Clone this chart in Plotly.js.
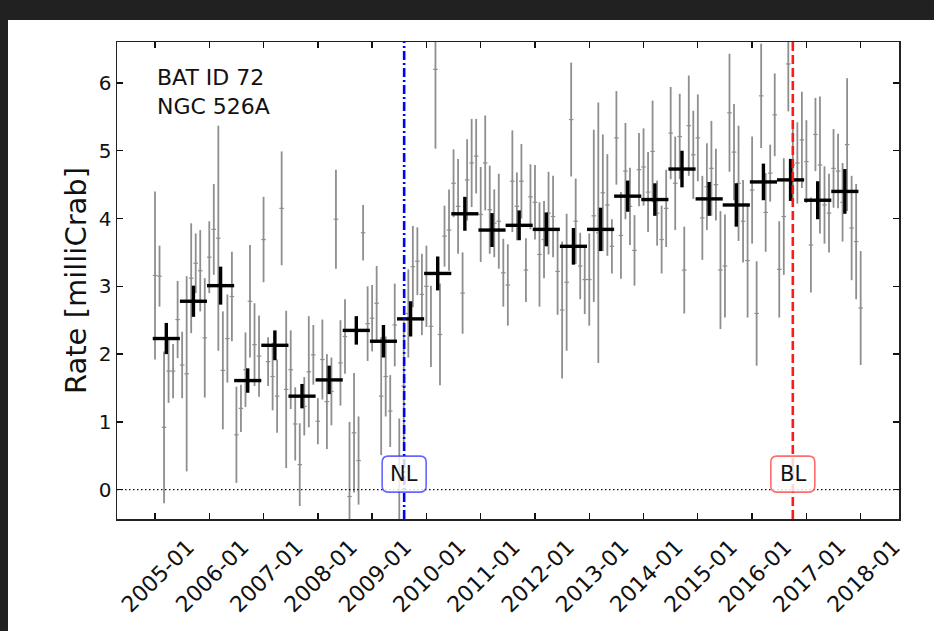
<!DOCTYPE html>
<html><head><meta charset="utf-8">
<script src="https://cdn.plot.ly/plotly-3.0.1.min.js"></script>
<style>
html,body{margin:0;padding:0;background:#212121;width:934px;height:631px;overflow:hidden}
#chart{position:absolute;left:8px;top:20px;width:926px;height:611px;background:#fff}
</style></head><body><div id="chart"></div>
<script>
// Monthly BAT light curve, first month = 2005-01
const firstYear = 2005;
const monthlyRate = [
  3.16, 3.15, 0.92, 1.75, 1.75, 2.51, 1.84, 1.71, 3.12, 3.34, 3.23, 2.24,   // 2005
  3.43, 3.84, 3.71, 1.76, 2.23, 2.85, 0.81, 1.20, 1.77, 2.78, 2.14, 1.97,   // 2006
  3.69, 1.89, 1.67, 1.38, 4.15, 1.48, 1.77, 0.97, 0.37, 1.23, 1.74, 1.99,   // 2007
  1.01, 1.92, 1.30, 1.45, 3.99, 1.87, 2.26, -0.10, 0.84, 0.43, 3.79, 2.45,  // 2008
  2.53, 2.75, 1.38, 1.67, 1.16, 2.43, 0.25, 1.53, 2.60, 3.29, 3.37, 2.88,   // 2009
  3.00, 2.41, 6.20, 2.29, 3.74, 3.83, 4.52, 4.18, 2.90, 4.57, 4.82, 4.92,   // 2010
  4.06, 4.82, 4.13, 3.93, 3.96, 3.20, 3.02, 4.55, 4.18, 4.55, 3.24, 4.32,   // 2011
  4.24, 3.47, 3.69, 4.08, 4.03, 3.22, 2.65, 3.06, 5.46, 3.96, 3.30, 3.10,   // 2012
  3.10, 4.04, 3.79, 4.38, 4.20, 3.59, 5.19, 3.75, 4.70, 4.18, 3.53, 4.72,   // 2013
  4.76, 4.39, 4.99, 4.08, 3.69, 4.15, 5.26, 4.52, 5.21, 3.24, 5.37, 4.94,   // 2014
  5.19, 4.01, 4.47, 4.74, 4.50, 3.24, 3.30, 5.56, 4.98, 4.52, 3.96, 3.38,   // 2015
  4.42, 2.60, 5.81, 4.09, 4.67, 5.53, 3.25, 4.03, 6.28, 4.79, 4.82, 5.16,   // 2016
  4.84, 3.61, 5.24, 4.79, 4.20, 4.08, 4.74, 4.70, 4.24, 5.09, 3.86, 3.66,   // 2017
  2.68                                                                      // 2018
];
const monthlyErr = [
  1.24, 0.45, 1.12, 0.47, 0.40, 0.57, 0.49, 1.44, 0.81, 0.44, 0.60, 0.88,
  0.53, 0.67, 1.66, 0.87, 0.65, 0.66, 0.71, 0.35, 0.55, 0.83, 0.61, 0.60,
  0.63, 0.36, 0.50, 0.54, 0.84, 1.16, 0.58, 0.54, 0.61, 0.43, 0.82, 0.44,
  0.34, 0.59, 0.70, 0.50, 0.73, 0.63, 0.55, 1.10, 0.88, 0.65, 0.41, 0.55,
  0.49, 0.55, 0.87, 0.59, 0.53, 0.61, 0.80, 0.95, 0.65, 0.60, 0.50, 0.60,
  0.60, 0.60, 1.17, 0.75, 0.45, 0.60, 0.50, 0.70, 0.60, 0.60, 0.65, 0.55,
  0.70, 0.70, 0.65, 0.50, 0.70, 0.50, 0.60, 0.75, 0.50, 0.55, 0.47, 0.48,
  0.55, 0.77, 0.57, 0.61, 0.60, 0.64, 1.01, 1.01, 0.84, 0.63, 0.49, 0.51,
  0.68, 1.27, 1.92, 0.86, 0.75, 0.40, 0.69, 0.64, 0.71, 0.57, 0.52, 0.54,
  0.57, 0.59, 0.75, 0.48, 0.50, 0.57, 0.68, 0.69, 0.63, 0.64, 0.74, 0.65,
  0.64, 0.62, 0.64, 0.70, 0.53, 0.87, 0.76, 0.87, 0.71, 0.85, 0.61, 0.84,
  0.79, 0.77, 0.77, 0.58, 0.42, 0.61, 0.71, 0.86, 0.70, 0.61, 0.60, 0.71,
  0.61, 0.70, 0.54, 1.01, 0.57, 0.58, 0.58, 0.55, 0.58, 0.98, 0.77, 0.85,
  0.84
];
// 6-month binned rates
const monthsPerBin = 6;
const binRate = [2.23, 2.78, 3.01, 1.61, 2.13, 1.38, 1.62, 2.35, 2.19, 2.52, 3.19, 4.07, 3.83,
                 3.90, 3.84, 3.59, 3.84, 4.33, 4.28, 4.73, 4.29, 4.20, 4.54, 4.57, 4.27, 4.40];
const binErr  = [0.23, 0.23, 0.28, 0.18, 0.22, 0.18, 0.21, 0.21, 0.24, 0.26, 0.25, 0.25, 0.25,
                 0.22, 0.25, 0.27, 0.32, 0.23, 0.24, 0.27, 0.25, 0.32, 0.27, 0.31, 0.28, 0.33];
const tickYears  = [2005, 2006, 2007, 2008, 2009, 2010, 2011, 2012, 2013, 2014, 2015, 2016, 2017, 2018];
const tickLabels = ['2005-01','2006-01','2007-01','2008-01','2009-01','2010-01','2011-01',
                    '2012-01','2013-01','2014-01','2015-01','2016-01','2017-01','2018-01'];
const yTicks = [0, 1, 2, 3, 4, 5, 6];
const nlYear = 2009.59, blYear = 2016.75;
const sourceLines = ['BAT ID 72', 'NGC 526A'];

const monthX = monthlyRate.map((_, i) => firstYear + i / 12);
const binX = binRate.map((_, j) => {
  const xs = monthX.slice(j * monthsPerBin, (j + 1) * monthsPerBin);
  return xs.reduce((a, b) => a + b, 0) / xs.length;
});
const halfMonth = 1 / 24, halfBin = monthsPerBin / 24;

const FONT = 'DejaVu Sans, Liberation Sans, sans-serif';
const gray = '#8e8e8e';

const traces = [
  {
    x: monthX, y: monthlyRate, type: 'scatter', mode: 'markers',
    marker: {size: 1, color: gray},
    error_y: {type: 'data', array: monthlyErr, visible: true, color: gray, thickness: 1.8, width: 0},
    error_x: {type: 'constant', value: halfMonth, visible: true, color: gray, thickness: 1.2, width: 0},
    hoverinfo: 'skip', showlegend: false
  },
  {
    x: binX, y: binRate, type: 'scatter', mode: 'markers',
    marker: {size: 1, color: 'black'},
    error_y: {type: 'data', array: binErr, visible: true, color: 'black', thickness: 3.4, width: 0},
    error_x: {type: 'constant', value: halfBin, visible: true, color: 'black', thickness: 3.4, width: 0},
    showlegend: false
  }
];

const axisCommon = {
  ticks: 'inside', ticklen: 6, tickwidth: 1.3, tickcolor: '#111',
  showline: true, linecolor: '#222', linewidth: 1.5, mirror: 'allticks',
  showgrid: false, zeroline: false
};

function roundBox(xv, color) {
  const w = 22, h = 18, r = 6;
  const path = `M ${-w + r},${-h} L ${w - r},${-h} Q ${w},${-h} ${w},${-h + r} L ${w},${h - r} ` +
               `Q ${w},${h} ${w - r},${h} L ${-w + r},${h} Q ${-w},${h} ${-w},${h - r} ` +
               `L ${-w},${-h + r} Q ${-w},${-h} ${-w + r},${-h} Z`;
  return {type: 'path', xref: 'x', yref: 'y', xsizemode: 'pixel', ysizemode: 'pixel',
          xanchor: xv, yanchor: 0.23, path: path, fillcolor: 'rgba(255,255,255,0.82)',
          line: {color: color, width: 1.6}, layer: 'above'};
}

const layout = {
  width: 926, height: 611,
  margin: {l: 109, r: 35, t: 22, b: 112},
  paper_bgcolor: 'white', plot_bgcolor: 'white',
  xaxis: Object.assign({}, axisCommon, {
    range: [2004.30, 2018.706], tickmode: 'array', tickvals: tickYears, ticktext: tickLabels,
    tickangle: -45, ticklabelshift: 33, ticklabelstandoff: 5,
    tickfont: {family: FONT, size: 22, color: '#111'}
  }),
  yaxis: Object.assign({}, axisCommon, {
    range: [-0.432, 6.604], tickmode: 'array', tickvals: yTicks, ticktext: yTicks.map(String),
    tickfont: {family: FONT, size: 20, color: '#111'},
    title: {text: 'Rate [milliCrab]', font: {family: FONT, size: 29, color: '#111'}, standoff: 3}
  }),
  shapes: [
    {type: 'line', xref: 'paper', x0: 0, x1: 1, yref: 'y', y0: 0, y1: 0,
     line: {color: '#111', width: 1.3, dash: '1.5px,2.5px'}, layer: 'above'},
    {type: 'line', xref: 'x', x0: nlYear, x1: nlYear, yref: 'paper', y0: 0, y1: 1,
     line: {color: '#0000ff', width: 2.6, dash: '9px,3px,2px,3px'}, layer: 'above'},
    {type: 'line', xref: 'x', x0: blYear, x1: blYear, yref: 'paper', y0: 0, y1: 1,
     line: {color: '#ff1a1a', width: 2.6, dash: '9px,4px'}, layer: 'above'},
    roundBox(nlYear, 'rgba(50,50,255,0.75)'),
    roundBox(blYear, 'rgba(255,60,60,0.75)')
  ],
  annotations: [
    {xref: 'paper', yref: 'paper', x: 0.049, y: 0.955, xanchor: 'left', yanchor: 'top',
     text: sourceLines.join('<br>'), showarrow: false, align: 'left',
     font: {family: FONT, size: 22, color: '#111'}},
    {xref: 'x', yref: 'y', x: nlYear, y: 0.23, text: 'NL', showarrow: false,
     font: {family: FONT, size: 21, color: '#111'}},
    {xref: 'x', yref: 'y', x: blYear, y: 0.23, text: 'BL', showarrow: false,
     font: {family: FONT, size: 21, color: '#111'}}
  ]
};

Plotly.newPlot('chart', traces, layout, {displayModeBar: false, staticPlot: true});
</script></body></html>
